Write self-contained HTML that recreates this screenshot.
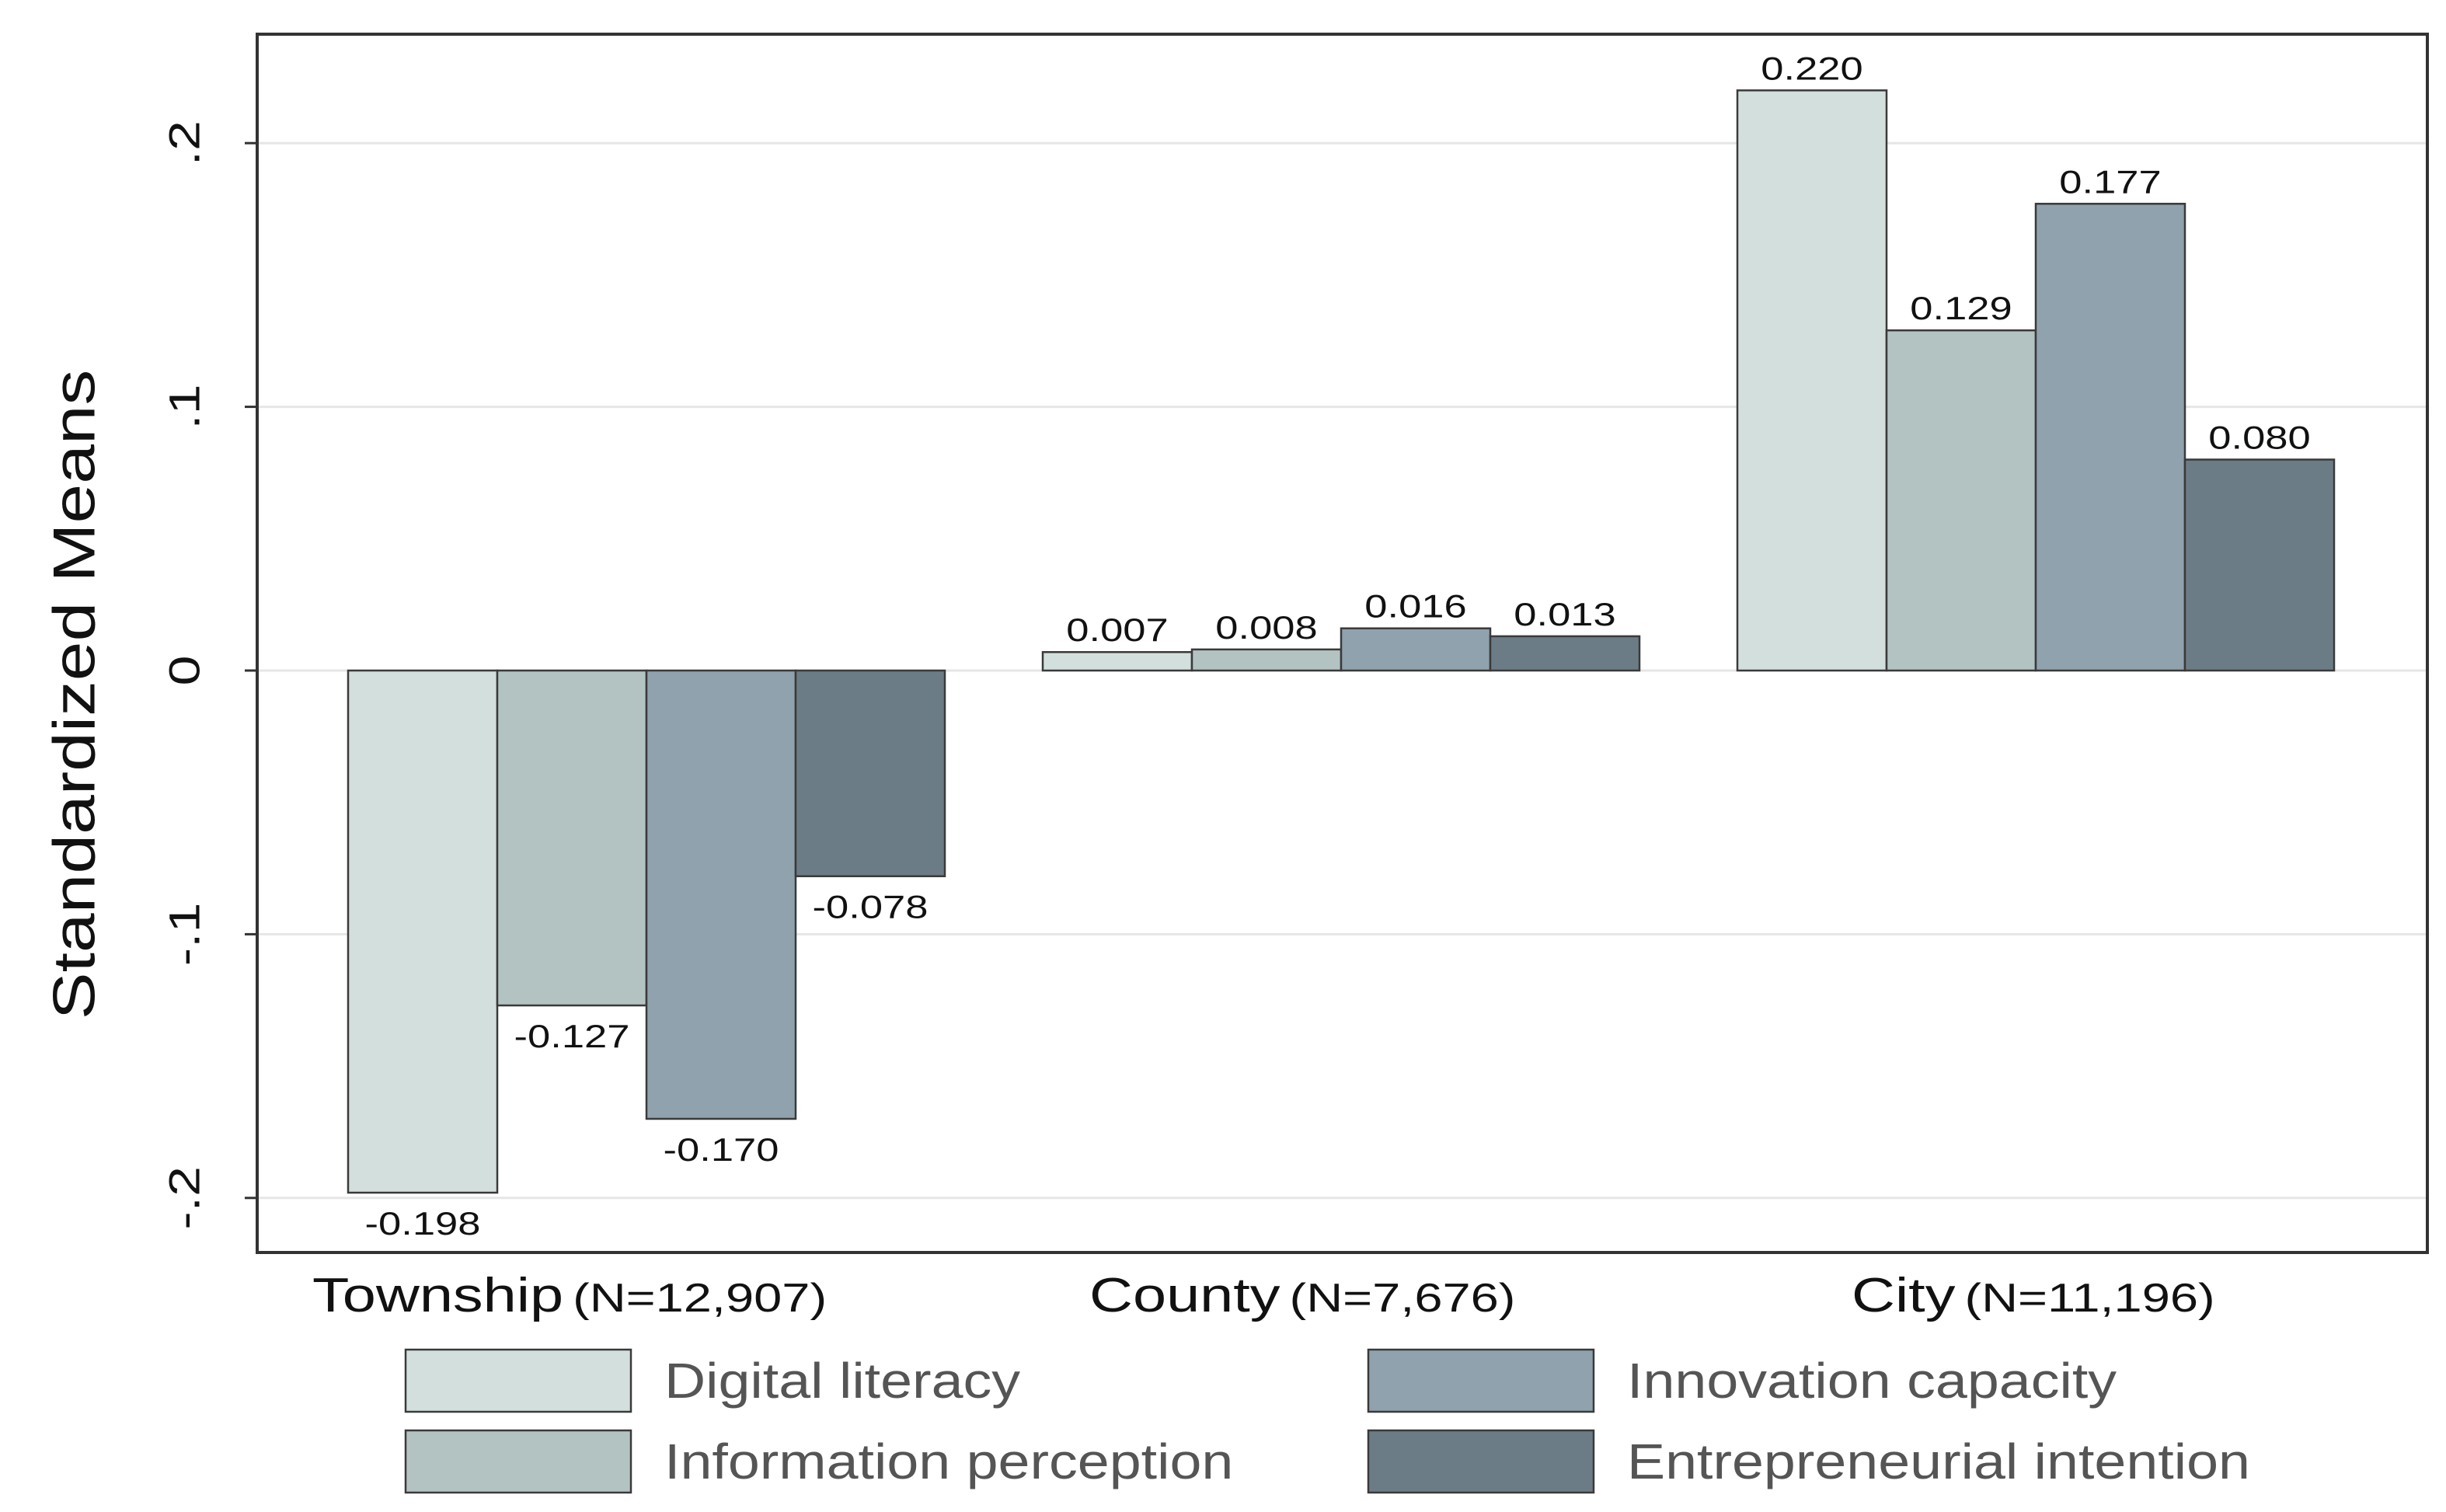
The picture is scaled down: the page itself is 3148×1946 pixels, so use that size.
<!DOCTYPE html>
<html><head><meta charset="utf-8"><style>
html,body{margin:0;padding:0;background:#fff;}
svg{display:block;font-family:"Liberation Sans",Arial,sans-serif;}
</style></head><body>
<svg id="chart" width="3148" height="1946" viewBox="0 0 3148 1946" xmlns="http://www.w3.org/2000/svg">
<rect x="0" y="0" width="3148" height="1946" fill="#fff"/>
<g id="grid"></g>
<g id="bars"></g>
<g id="labels"></g>
<rect x="331" y="44" width="2793" height="1568" fill="none" stroke="#333" stroke-width="4"/>
<g id="yaxis"></g>
<text id="ytitle" x="96" y="894" transform="rotate(-90 96 894)" text-anchor="middle" dominant-baseline="central" font-size="76" fill="#111">Standardized Means</text>
<g id="xaxis"></g>
<g id="legend"></g>
</svg>
<script>
const categories = ["Township", "County", "City"];
const categoryN = ["(N=12,907)", "(N=7,676)", "(N=11,196)"];
const seriesNames = ["Digital literacy", "Information perception", "Innovation capacity", "Entrepreneurial intention"];
const digitalLiteracy = [-0.198, 0.007, 0.220];
const informationPerception = [-0.127, 0.008, 0.129];
const innovationCapacity = [-0.170, 0.016, 0.177];
const entrepreneurialIntention = [-0.078, 0.013, 0.080];
const yTicks = [-0.2, -0.1, 0, 0.1, 0.2];
const yTickLabels = ["-.2", "-.1", "0", ".1", ".2"];

const NS = "http://www.w3.org/2000/svg";
const colors = ["#d3dfdc", "#b3c3c2", "#8fa2ad", "#6c7c86"];
const series = [digitalLiteracy, informationPerception, innovationCapacity, entrepreneurialIntention];
const y0px = 863, pxPerUnit = 3394;
function yScale(v){ return y0px - v * pxPerUnit; }
const groupStart0 = 448, groupStep = 894, barW = 192;
function xBar(ci, si){ return groupStart0 + ci * groupStep + si * barW; }
function mk(tag, attrs, parent){ const e = document.createElementNS(NS, tag); for (const k in attrs) e.setAttribute(k, attrs[k]); parent.appendChild(e); return e; }
function stretch(el, f){ const L = el.getComputedTextLength(); el.setAttribute('textLength', L * f); el.setAttribute('lengthAdjust', 'spacingAndGlyphs'); return L * f; }

stretch(document.getElementById("ytitle"), 1.2);

const grid = document.getElementById("grid"), yaxis = document.getElementById("yaxis");
yTicks.forEach((t, i) => {
  const y = yScale(t);
  const g = mk("line", {x1:333, x2:3122, y1:y, y2:y, stroke:"#e6e6e6", "stroke-width":3}, grid);
  
  
  const tk = mk("line", {x1:315, x2:331, y1:y, y2:y, stroke:"#333", "stroke-width":3}, yaxis);
  
  
  const tl = mk("text", {x:237, y:y, transform:`rotate(-90 237 ${y})`, "text-anchor":"middle", "dominant-baseline":"central", "font-size":56, fill:"#111"}, yaxis);
  tl.textContent = yTickLabels[i];
  
  
  stretch(tl, 1.25);
});

const bars = document.getElementById("bars"), labels = document.getElementById("labels");
categories.forEach((c, ci) => {
  series.forEach((s, si) => {
    const v = s[ci], x = xBar(ci, si);
    const top = Math.min(yScale(v), yScale(0)), h = Math.abs(yScale(v) - yScale(0));
    const r = mk("rect", {x:x, y:top, width:barW, height:h, fill:colors[si], stroke:"#3a3a3a", "stroke-width":2.5}, bars);
    
    
    const ly = v >= 0 ? yScale(v) - 14 : yScale(v) + 54;
    const t = mk("text", {x:x + barW/2, y:ly, "text-anchor":"middle", "font-size":42, fill:"#111"}, labels);
    t.textContent = v.toFixed(3);
    
    
    stretch(t, 1.25);
  });
});

const xaxis = document.getElementById("xaxis");
const catX = [402, 1402, 2383];
categories.forEach((c, ci) => {
  const t = mk("text", {x:catX[ci], y:1688, "font-size":62, fill:"#111"}, xaxis);
  t.textContent = c;
  
  
  const w = stretch(t, 1.25);
  const n = mk("text", {x:catX[ci] + w + 12, y:1688, "font-size":52, fill:"#111"}, xaxis);
  n.textContent = categoryN[ci];
  
  
  stretch(n, 1.25);
});

const legend = document.getElementById("legend");
const legPos = [[522,1737],[522,1841],[1761,1737],[1761,1841]];
seriesNames.forEach((nm, i) => {
  const [x, y] = legPos[i];
  const g = mk("g", {}, legend);
  
  
  const r = mk("rect", {x:x, y:y, width:290, height:80, fill:colors[i], stroke:"#3a3a3a", "stroke-width":2.5}, g);
  
  
  const t = mk("text", {x:x + 333, y:y + 40, "dominant-baseline":"central", "font-size":64, fill:"#555"}, g);
  t.textContent = nm;
  
  
  stretch(t, 1.15);
});
</script>
</body></html>
